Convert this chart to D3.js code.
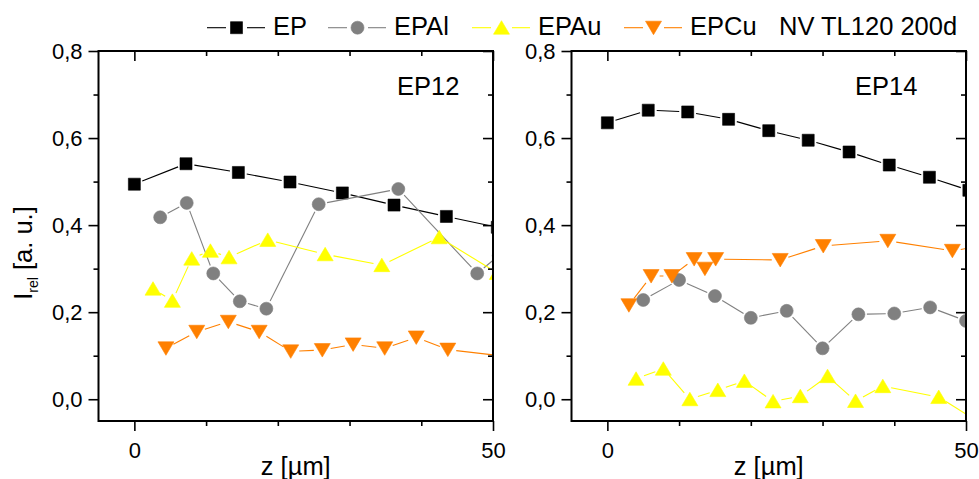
<!DOCTYPE html>
<html><head><meta charset="utf-8">
<script src="https://cdn.jsdelivr.net/npm/d3@7"></script>
<style>
body{margin:0;background:#fff}
svg{display:block}
text{font-family:"Liberation Sans",Arial,Helvetica,sans-serif;fill:#000}
</style>
</head><body>
<svg id="c" width="979" height="479"></svg>
<script>
// ---------- data ----------
const seriesNames = ["EP", "EPAl", "EPAu", "EPCu"];
const panelNames = ["EP12", "EP14"];
const xMajorTicks = [0, 50];
const xMinorTicks = [10, 20, 30, 40];
const yMajorTicks = [0, 0.2, 0.4, 0.6, 0.8];
const yMinorTicks = [0.1, 0.3, 0.5, 0.7];
const legendNote = "NV TL120 200d";
const xTitle = "z [µm]";

// EP12 panel: [z (µm), I_rel]
const EP12_EP   = [[0,0.494],[7.2,0.541],[14.5,0.521],[21.7,0.499],[29.0,0.474],[36.2,0.446],[43.5,0.420],[50.6,0.395]];
const EP12_EPAl = [[3.6,0.418],[7.3,0.451],[11.0,0.289],[14.7,0.225],[18.4,0.208],[25.7,0.448],[36.8,0.483],[47.8,0.289],[50.8,0.330]];
const EP12_EPAu = [[2.6,0.254],[5.3,0.226],[8.0,0.323],[10.6,0.341],[13.2,0.326],[18.6,0.366],[26.6,0.333],[34.5,0.308],[42.5,0.372],[50.6,0.290]];
const EP12_EPCu = [[4.4,0.117],[8.7,0.155],[13.1,0.178],[17.4,0.155],[21.8,0.110],[26.2,0.113],[30.5,0.126],[34.9,0.117],[39.3,0.142],[43.7,0.114],[52.5,0.097]];

// EP14 panel
const EP14_EP   = [[0,0.635],[5.7,0.664],[11.2,0.660],[16.9,0.643],[22.5,0.617],[28.0,0.595],[33.7,0.568],[39.3,0.538],[44.9,0.510],[50.4,0.480]];
const EP14_EPAl = [[5,0.228],[10,0.274],[15,0.237],[20,0.187],[25,0.203],[30,0.117],[35,0.195],[40,0.197],[45,0.211],[50,0.180]];
const EP14_EPAu = [[4.0,0.047],[7.8,0.070],[11.5,0.000],[15.4,0.021],[19.1,0.042],[23.1,-0.005],[26.9,0.007],[30.7,0.053],[34.6,-0.004],[38.4,0.030],[46.2,0.005],[52,-0.055]];
const EP14_EPCu = [[3.0,0.216],[6.1,0.283],[9.0,0.283],[12.1,0.322],[13.6,0.300],[15.1,0.322],[24.1,0.320],[30.1,0.352],[39.1,0.364],[48.1,0.341],[54,0.357]];

const panelData = [
  {name: panelNames[0], series: {EP: EP12_EP, EPAl: EP12_EPAl, EPAu: EP12_EPAu, EPCu: EP12_EPCu}},
  {name: panelNames[1], series: {EP: EP14_EP, EPAl: EP14_EPAl, EPAu: EP14_EPAu, EPCu: EP14_EPCu}}
];

// ---------- styles / layout ----------
const styles = {
  EP:   {color: "#000000", shape: "square"},
  EPAl: {color: "#808080", shape: "circle"},
  EPAu: {color: "#ffff00", shape: "up"},
  EPCu: {color: "#ff8000", shape: "down"}
};
const layout = {
  panels: [{x0: 98.5, x1: 493, labelX: 397}, {x0: 571.5, x1: 966, labelX: 855}],
  y0: 51, y1: 421
};
const legendX = [207, 328, 472, 624];
const legendNoteX = 779;

const svg = d3.select("#c");
const fmt = d => d.toFixed(1).replace(".", ",");

function markerPath(shape) {
  switch (shape) {
    case "square": return "M-6,-6h12v12h-12Z";
    case "circle": return d3.symbol(d3.symbolCircle, Math.PI * 6.5 * 6.5)();
    case "up": return "M0,-7L8,6.5L-8,6.5Z";
    case "down": return "M0,7L8,-6.5L-8,-6.5Z";
  }
}

function gapSegments(pts, gap) {
  const segs = [];
  for (let i = 0; i < pts.length - 1; i++) {
    const [ax, ay] = pts[i], [bx, by] = pts[i + 1];
    const dx = bx - ax, dy = by - ay, L = Math.hypot(dx, dy);
    if (L <= 2 * gap + 0.5) continue;
    const ux = dx / L, uy = dy / L;
    segs.push([ax + ux * gap, ay + uy * gap, bx - ux * gap, by - uy * gap]);
  }
  return segs;
}

layout.panels.forEach((P, pi) => {
  const xs = d3.scaleLinear().domain([-5, 50]).range([P.x0, P.x1]);
  const ys = d3.scaleLinear().domain([-0.05, 0.8]).range([layout.y1, layout.y0]);
  const g = svg.append("g");

  const clipId = "clip" + pi;
  svg.append("clipPath").attr("id", clipId).append("rect")
    .attr("x", P.x0).attr("y", layout.y0)
    .attr("width", P.x1 - P.x0).attr("height", layout.y1 - layout.y0);

  const dataG = g.append("g").attr("clip-path", `url(#${clipId})`);
  const pd = panelData[pi];
  seriesNames.forEach(s => {
    const st = styles[s];
    const pts = pd.series[s].map(d => [xs(d[0]), ys(d[1])]);
    dataG.append("g").selectAll("line").data(gapSegments(pts, 8.5)).join("line")
      .attr("x1", d => d[0]).attr("y1", d => d[1]).attr("x2", d => d[2]).attr("y2", d => d[3])
      .attr("stroke", st.color).attr("stroke-width", 1.1);
    dataG.append("g").selectAll("path").data(pd.series[s]).join("path")
      .attr("d", markerPath(st.shape))
      .attr("transform", d => `translate(${xs(d[0])},${ys(d[1])})`)
      .attr("fill", st.color).attr("stroke", st.color).attr("stroke-width", 0.6);
  });

  // axes
  const style = sel => {
    sel.select(".domain").remove();
    sel.selectAll(".tick line").attr("stroke", "#000").attr("stroke-width", 1.6);
    sel.selectAll("text").attr("font-size", 22).attr("fill", "#000")
      .attr("font-family", '"Liberation Sans", Arial, sans-serif');
  };
  g.append("g").attr("transform", `translate(${P.x0},0)`)
    .call(d3.axisLeft(ys).tickValues(yMajorTicks).tickSize(10).tickPadding(6).tickFormat(fmt)).call(style);
  g.append("g").attr("transform", `translate(${P.x0},0)`)
    .call(d3.axisLeft(ys).tickValues(yMinorTicks).tickSize(5).tickFormat("")).call(style);
  g.append("g").attr("transform", `translate(${P.x1},0)`)
    .call(d3.axisRight(ys).tickValues(yMajorTicks).tickSize(-10).tickFormat("")).call(style);
  g.append("g").attr("transform", `translate(${P.x1},0)`)
    .call(d3.axisRight(ys).tickValues(yMinorTicks).tickSize(-5).tickFormat("")).call(style);
  g.append("g").attr("transform", `translate(0,${layout.y1})`)
    .call(d3.axisBottom(xs).tickValues(xMajorTicks).tickSize(10).tickPadding(11).tickFormat(d3.format("d"))).call(style);
  g.append("g").attr("transform", `translate(0,${layout.y1})`)
    .call(d3.axisBottom(xs).tickValues(xMinorTicks).tickSize(5).tickFormat("")).call(style);
  g.append("g").attr("transform", `translate(0,${layout.y0})`)
    .call(d3.axisTop(xs).tickValues(xMajorTicks).tickSize(-10).tickFormat("")).call(style);
  g.append("g").attr("transform", `translate(0,${layout.y0})`)
    .call(d3.axisTop(xs).tickValues(xMinorTicks).tickSize(-5).tickFormat("")).call(style);

  g.append("rect").attr("x", P.x0).attr("y", layout.y0)
    .attr("width", P.x1 - P.x0).attr("height", layout.y1 - layout.y0)
    .attr("fill", "none").attr("stroke", "#000").attr("stroke-width", 2);

  g.append("text").attr("x", P.labelX).attr("y", 95).attr("font-size", 25.5).text(pd.name);
  g.append("text").attr("x", (P.x0 + P.x1) / 2).attr("y", 475).attr("text-anchor", "middle")
    .attr("font-size", 25.5).text(xTitle);
});

// y title
const yt = svg.append("text").attr("transform", "translate(32,253) rotate(-90)")
  .attr("text-anchor", "middle").attr("font-size", 25.5);
yt.append("tspan").text("I");
yt.append("tspan").attr("font-size", 14).attr("dy", 6).text("rel");
yt.append("tspan").attr("dy", -6).text(" [a. u.]");

// legend
const lg = svg.append("g");
seriesNames.forEach((s, i) => {
  const x = legendX[i], y = 27.7, st = styles[s];
  lg.append("line").attr("x1", x).attr("x2", x + 19).attr("y1", y).attr("y2", y)
    .attr("stroke", st.color).attr("stroke-width", 1.1);
  lg.append("line").attr("x1", x + 40).attr("x2", x + 58).attr("y1", y).attr("y2", y)
    .attr("stroke", st.color).attr("stroke-width", 1.1);
  lg.append("path").attr("d", markerPath(st.shape)).attr("transform", `translate(${x + 29.5},${y})`)
    .attr("fill", st.color).attr("stroke", st.color).attr("stroke-width", 0.6);
  lg.append("text").attr("x", x + 66).attr("y", 35).attr("font-size", 25.5).text(s);
});
lg.append("text").attr("x", legendNoteX).attr("y", 35).attr("font-size", 25.5).text(legendNote);
</script>
</body></html>
